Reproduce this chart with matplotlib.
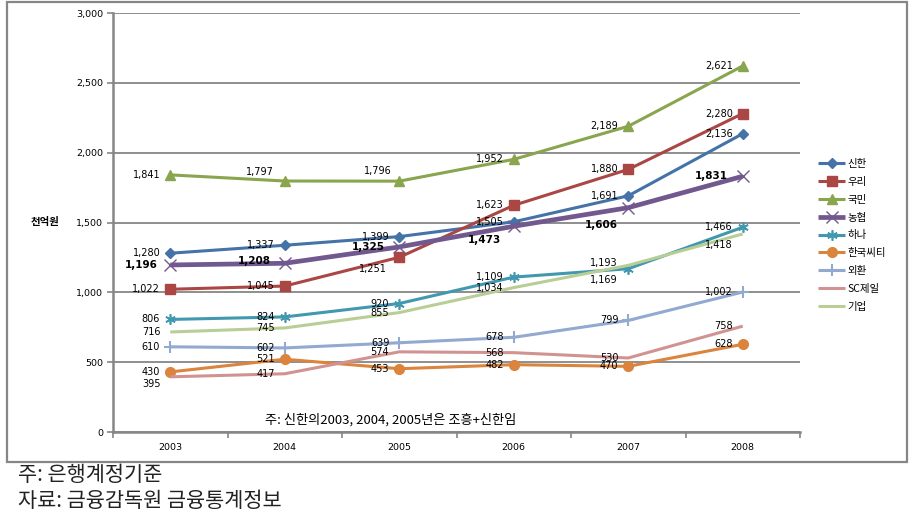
import matplotlib
matplotlib.use("Agg")
import matplotlib.pyplot as plt
from matplotlib.patches import Rectangle
from matplotlib.ticker import FuncFormatter, FixedLocator

plt.rcParams['font.family'] = ['DejaVu Sans', 'Noto Sans CJK KR']

years = ['2003', '2004', '2005', '2006', '2007', '2008']
banks = ['신한', '우리', '국민', '농협', '하나', '한국씨티', '외환', 'SC제일', '기업']

shinhan = [1280, 1337, 1399, 1505, 1691, 2136]
woori = [1022, 1045, 1251, 1623, 1880, 2280]
kookmin = [1841, 1797, 1796, 1952, 2189, 2621]
nonghyup = [1196, 1208, 1325, 1473, 1606, 1831]
hana = [806, 824, 920, 1109, 1169, 1466]
citi = [430, 521, 453, 482, 470, 628]
kexchange = [610, 602, 639, 678, 799, 1002]
scfirst = [395, 417, 574, 568, 530, 758]
ibk = [716, 745, 855, 1034, 1193, 1418]

series = [shinhan, woori, kookmin, nonghyup, hana, citi, kexchange, scfirst, ibk]

colors = ['#4572A7', '#AA4643', '#89A54E', '#71588F', '#4198AF',
          '#DB843D', '#93A9CF', '#D19392', '#B9CD96']
markers = ['D', 's', '^', 'x', (6, 2, 0), 'o', '+', None, None]
msizes = [5.5, 6.5, 7, 9, 7.5, 7, 8, 0, 0]
mews = [1, 1, 1, 1.0, 1.2, 1, 1.5, 1, 1]
lws = [2.2, 2.2, 2.2, 3.4, 2.2, 2.2, 2.2, 2.2, 2.2]

# label offsets in pixels (dx, dy_up); default (-10, 0)
default_off = (-10, 0)
special_off = {
    (1, 2): (-12, -12),
    (2, 1): (-11, 9), (2, 2): (-8, 10),
    (3, 0): (-13, 0), (3, 1): (-14, 2), (3, 2): (-14, 0),
    (3, 3): (-13, -14), (3, 4): (-10, -17), (3, 5): (-15, 0),
    (4, 4): (-11, -11),
    (7, 0): (-9, -7),
    (8, 4): (-11, 2), (8, 5): (-10, -11),
}

W, H = 916, 518
fig = plt.figure(figsize=(W / 100, H / 100), dpi=100)

ax_l, ax_r, ax_t, ax_b = 113, 800, 13, 432
ax = fig.add_axes([ax_l / W, 1 - ax_b / H, (ax_r - ax_l) / W, (ax_b - ax_t) / H])

xs = list(range(len(years)))
for i, (name, vals) in enumerate(zip(banks, series)):
    kw = dict(color=colors[i], lw=lws[i], label=name, solid_capstyle='butt',
              solid_joinstyle='round', zorder=3 + i * 0.1)
    if markers[i] is not None:
        kw.update(marker=markers[i], markersize=msizes[i], markeredgewidth=mews[i],
                  markeredgecolor=colors[i], markerfacecolor=colors[i])
    ax.plot(xs, vals, **kw)
    bold = (name == '농협')
    for j, v in enumerate(vals):
        dx, dy = special_off.get((i, j), default_off)
        ax.annotate(f"{v:,}", (xs[j], v), xytext=(dx, dy), textcoords='offset pixels',
                    ha='right', va='center', fontsize=7.5 if bold else 7,
                    fontweight='bold' if bold else 'normal', color='black', zorder=10)

ax.set_xlim(-0.5, len(years) - 0.5)
ax.set_ylim(0, 3000)
ax.set_yticks(range(0, 3001, 500))
ax.yaxis.set_major_formatter(FuncFormatter(lambda v, p: f"{int(v):,}"))
ax.set_xticks(xs)
ax.set_xticklabels(years)
ax.xaxis.set_minor_locator(FixedLocator([x - 0.5 for x in range(len(years) + 1)]))
ax.tick_params(axis='x', which='major', length=0, labelsize=6.8, pad=8)
ax.tick_params(axis='x', which='minor', length=4, width=1.2, color='#868686', direction='out')
ax.tick_params(axis='y', which='major', length=4, width=1.2, color='#868686',
               labelsize=6.8, pad=3)
ax.grid(axis='y', color='#868686', lw=1.3, zorder=1)
for s in ['top', 'right']:
    ax.spines[s].set_visible(False)
for s in ['left', 'bottom']:
    ax.spines[s].set_color('#868686')
    ax.spines[s].set_linewidth(1.8)
ax.set_axisbelow(True)

fig.text(45 / W, 1 - 222 / H, '천억원', fontsize=7.5, fontweight='bold',
         ha='center', va='center', family=['Noto Sans CJK KR', 'DejaVu Sans'])

ax.text(391 / W, 1 - 420 / H, '주: 신한의2003, 2004, 2005년은 조흥+신한임',
        transform=fig.transFigure, fontsize=9.5, ha='center', va='center',
        family=['Noto Sans CJK KR', 'DejaVu Sans'])

leg = fig.legend(loc='upper left', bbox_to_anchor=(818 / W, 1 - 159 / H),
                 frameon=False, handlelength=2.6, handletextpad=0.25,
                 labelspacing=0.75, borderpad=0, borderaxespad=0,
                 prop={'family': ['Noto Sans CJK KR', 'DejaVu Sans'], 'size': 7.5})

fig.patches.append(Rectangle((7 / W, 1 - 462 / H), (907 - 7) / W, (462 - 2) / H,
                             transform=fig.transFigure, fill=False,
                             edgecolor='#868686', lw=1.6))

fig.text(18 / W, 1 - 475 / H, '주: 은행계정기준', fontsize=15, ha='left', va='center',
         family=['Noto Sans CJK KR', 'DejaVu Sans'], color='#222222')
fig.text(18 / W, 1 - 501 / H, '자료: 금융감독원 금융통계정보', fontsize=15, ha='left', va='center',
         family=['Noto Sans CJK KR', 'DejaVu Sans'], color='#222222')

fig.savefig('out.png', dpi=100)
